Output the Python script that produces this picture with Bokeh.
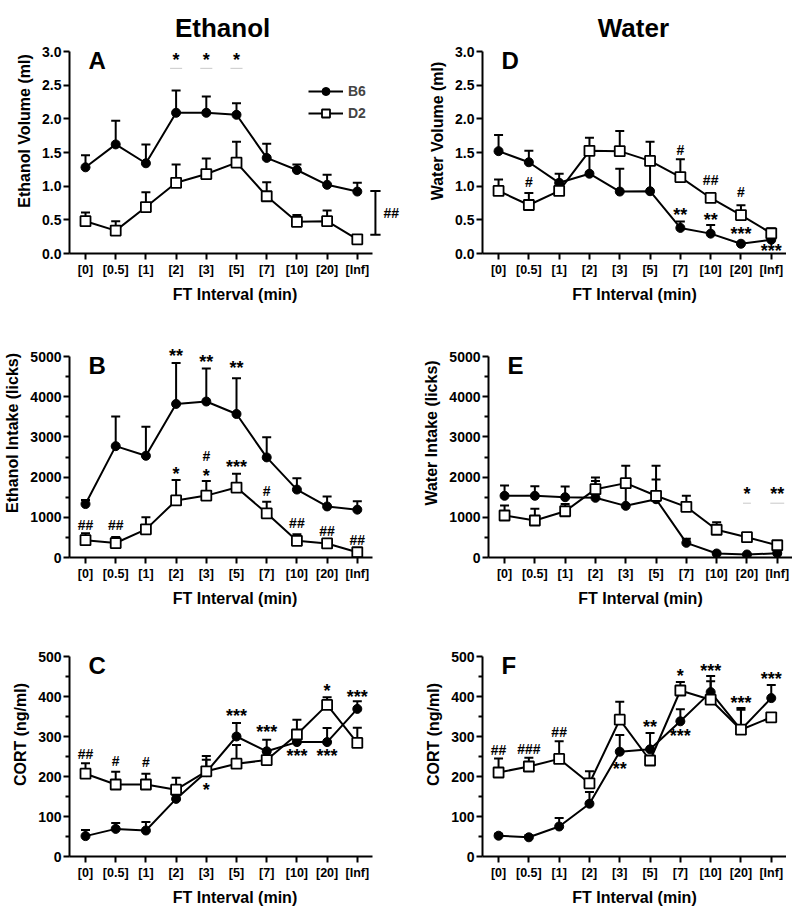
from bokeh.plotting import figure
from bokeh.layouts import column, row
from bokeh.models import (Range1d, FixedTicker, Legend, LegendItem, NumeralTickFormatter,
                          CustomJSTickFormatter)
from bokeh.embed import file_html
from bokeh.resources import INLINE
from bokeh.core.properties import value

# ---------------- data ----------------
categories = ["[0]", "[0.5]", "[1]", "[2]", "[3]", "[5]", "[7]", "[10]", "[20]", "[Inf]"]

# A: Ethanol volume (ml)
eth_vol_b6 = [1.28, 1.62, 1.34, 2.09, 2.09, 2.06, 1.42, 1.24, 1.02, 0.92]
eth_vol_b6_sem = [0.18, 0.35, 0.28, 0.33, 0.24, 0.17, 0.21, 0.08, 0.15, 0.13]
eth_vol_d2 = [0.48, 0.34, 0.69, 1.05, 1.18, 1.35, 0.85, 0.47, 0.48, 0.21]
eth_vol_d2_sem = [0.13, 0.14, 0.22, 0.27, 0.23, 0.31, 0.21, 0.10, 0.16, 0.04]
eth_vol_ann_idx = [3, 4, 5]
eth_vol_ann_y = [2.91, 2.91, 2.91]
eth_vol_ann_txt = ["*", "*", "*"]
eth_vol_bracket = [0.28, 0.93]
eth_vol_bracket_txt = "##"

# D: Water volume (ml)
wat_vol_b6 = [1.52, 1.355, 1.05, 1.185, 0.92, 0.925, 0.38, 0.295, 0.145, 0.205]
wat_vol_b6_sem = [0.24, 0.17, 0.135, 0.32, 0.34, 0.44, 0.095, 0.13, 0.015, 0.015]
wat_vol_d2 = [0.93, 0.72, 0.93, 1.525, 1.52, 1.375, 1.135, 0.825, 0.57, 0.30]
wat_vol_d2_sem = [0.17, 0.18, 0.05, 0.195, 0.30, 0.285, 0.265, 0.025, 0.145, 0.075]
wat_vol_ann_idx = [1, 6, 7, 8, 6, 7, 8, 9]
wat_vol_ann_y = [1.06, 1.535, 1.085, 0.91, 0.61, 0.535, 0.32, 0.07]
wat_vol_ann_txt = ["#", "#", "##", "#", "**", "**", "***", "***"]

# B: Ethanol intake (licks)
eth_lick_b6 = [1330, 2770, 2530, 3820, 3880, 3570, 2490, 1690, 1270, 1190]
eth_lick_b6_sem = [100, 740, 720, 1020, 820, 890, 500, 280, 250, 210]
eth_lick_d2 = [430, 360, 700, 1420, 1540, 1740, 1100, 415, 350, 130]
eth_lick_d2_sem = [175, 150, 300, 505, 365, 345, 285, 165, 70, 20]
eth_lick_ann_idx = [3, 4, 5, 3, 4, 4, 5, 6, 0, 1, 7, 8, 9]
eth_lick_ann_y = [5066, 4925, 4776, 2134, 2093, 2533, 2309, 1645, 806, 806, 847, 648, 440]
eth_lick_ann_txt = ["**", "**", "**", "*", "*", "#", "***", "#", "##", "##", "##", "##", "##"]

# E: Water intake (licks)
wat_lick_b6 = [1535, 1535, 1500, 1485, 1285, 1450, 365, 100, 75, 105]
wat_lick_b6_sem = [255, 240, 265, 415, 500, 490, 100, 20, 15, 20]
wat_lick_d2 = [1045, 920, 1150, 1700, 1850, 1535, 1260, 690, 505, 305]
wat_lick_d2_sem = [250, 290, 180, 290, 430, 745, 275, 185, 40, 30]
wat_lick_ann_idx = [8, 9]
wat_lick_ann_y = [1625, 1625]
wat_lick_ann_txt = ["*", "**"]

# C: CORT ethanol (ng/ml)
eth_cort_b6 = [51, 69, 65, 144, 211, 300, 263, 286, 286, 369]
eth_cort_b6_sem = [15, 15, 21, 10, 31, 34, 29, 10, 35, 19]
eth_cort_d2 = [207, 180, 180, 167, 213, 232, 241, 305, 379, 284]
eth_cort_d2_sem = [26, 32, 27, 30, 38, 47, 10, 37, 19, 38]
eth_cort_ann_idx = [0, 1, 2, 4, 5, 6, 7, 8, 8, 9]
eth_cort_ann_y = [257, 240, 236, 172, 357, 317, 257, 257, 419, 403]
eth_cort_ann_txt = ["##", "#", "#", "*", "***", "***", "***", "***", "*", "***"]

# F: CORT water (ng/ml)
wat_cort_b6 = [52, 48, 75, 132, 262, 268, 338, 411, 317, 396]
wat_cort_b6_sem = [5, 5, 21, 29, 42, 41, 30, 40, 50, 33]
wat_cort_d2 = [210, 225, 244, 183, 342, 240, 415, 392, 317, 348]
wat_cort_d2_sem = [35, 22, 44, 30, 45, 10, 21, 46, 54, 10]
wat_cort_ann_idx = [0, 1, 2, 4, 5, 6, 6, 7, 8, 9]
wat_cort_ann_y = [267, 269, 311, 223, 330, 457, 307, 469, 388, 448]
wat_cort_ann_txt = ["##", "###", "##", "**", "**", "*", "***", "***", "***", "***"]

# ---------------- styling / layout ----------------
FONT = "Liberation Sans"
X0 = -0.53
XAXIS_END = 9.5
ROWS = [  # frame height px, px for axis span, axis top value, bottom border, top border
    (245, 202, 3.0, 55, 8),
    (249, 201, 5000, 55, 0),
    (244, 200, 500, 48, 0),
]
COLS = [  # frame width, border left, border right, px per category
    (331, 69, 20, 30.2),
    (304, 62, 0, 30.3),
]
HASH_FS = 14
STAR_FS = 18
STAR_SHIFT = 0.12    # fraction of font size, anchor relative to the visual centre
HASH_SHIFT = 0.0
xs = list(range(len(categories)))


def draw_ann(p, idx, ys, texts, ppu):
    stars = [(i, y, t) for i, y, t in zip(idx, ys, texts) if "*" in t]
    hashes = [(i, y, t) for i, y, t in zip(idx, ys, texts) if "*" not in t]
    for group, fs, frac in ((stars, STAR_FS, STAR_SHIFT), (hashes, HASH_FS, HASH_SHIFT)):
        if not group:
            continue
        p.text(x=[g[0] for g in group], y=[g[1] - frac * fs / ppu for g in group],
               text=[g[2] for g in group], text_font=value(FONT), text_font_size=f"{fs}px",
               text_font_style="bold",
               text_align="center", text_baseline="alphabetic", text_color="black")


def panel(ci, ri, b6, b6s, d2, d2s, ann_idx, ann_y, ann_txt, ylabel, letter,
          yticks, yminor, yfmt, title=None, legend=False):
    frame_h, axis_px, top_val, bb, bt = ROWS[ri]
    fw, bl, br, pxc = COLS[ci]
    ppu = axis_px / top_val
    y_end = frame_h / ppu
    x_end = X0 + fw / pxc
    p = figure(frame_width=fw, frame_height=frame_h,
               x_range=Range1d(X0, x_end), y_range=Range1d(0, y_end),
               min_border_left=bl, min_border_right=br, min_border_top=bt,
               min_border_bottom=bb, output_backend="svg", toolbar_location=None,
               tools="")
    p.outline_line_color = None
    p.xgrid.visible = False
    p.ygrid.visible = False
    p.background_fill_color = "white"
    p.border_fill_color = "white"

    for ax in (p.xaxis[0], p.yaxis[0]):
        ax.axis_line_width = 2
        ax.axis_line_color = "black"
        ax.major_tick_line_width = 2
        ax.major_tick_line_color = "black"
        ax.minor_tick_line_width = 2
        ax.minor_tick_line_color = "black"
        ax.major_tick_in = 0
        ax.major_tick_out = 6
        ax.minor_tick_in = 0
        ax.minor_tick_out = 4
        ax.major_label_text_font = FONT
        ax.major_label_text_font_style = "bold"
        ax.major_label_text_color = "black"
        ax.axis_label_text_font = FONT
        ax.axis_label_text_font_style = "bold"
        ax.axis_label_text_font_size = "16px"
        ax.axis_label_text_color = "black"
    xa = p.xaxis[0]
    xa.ticker = FixedTicker(ticks=xs)
    xa.formatter = CustomJSTickFormatter(args=dict(labels=categories),
                                         code="const i = Math.round(tick); return (i >= 0 && i < labels.length) ? labels[i] : '';")
    xa.bounds = (X0, XAXIS_END)
    xa.major_label_text_font_size = "12.5px"
    xa.major_label_standoff = 3
    xa.axis_label = "FT Interval (min)"
    xa.axis_label_standoff = 6
    ya = p.yaxis[0]
    ya.ticker = FixedTicker(ticks=yticks, minor_ticks=yminor)
    ya.formatter = NumeralTickFormatter(format=yfmt)
    ya.bounds = (0, top_val)
    ya.major_label_text_font_size = "14px"
    ya.major_label_standoff = 2
    ya.axis_label = ylabel
    ya.axis_label_standoff = 6

    b6_top = [m + s for m, s in zip(b6, b6s)]
    d2_top = [m + s for m, s in zip(d2, d2s)]
    p.segment(x0=xs, y0=b6, x1=xs, y1=b6_top, line_color="black", line_width=2)
    p.scatter(x=xs, y=b6_top, marker="dash", size=9, line_color="black", line_width=2)
    b6_line = p.line(x=xs, y=b6, line_color="black", line_width=2)
    b6_sc = p.scatter(x=xs, y=b6, marker="circle", size=9, fill_color="black",
                      line_color="black", line_width=1)
    p.segment(x0=xs, y0=d2, x1=xs, y1=d2_top, line_color="black", line_width=2)
    p.scatter(x=xs, y=d2_top, marker="dash", size=9, line_color="black", line_width=2)
    d2_line = p.line(x=xs, y=d2, line_color="black", line_width=2)
    d2_sc = p.scatter(x=xs, y=d2, marker="square", size=10, fill_color="white",
                      line_color="black", line_width=1.8)

    if ann_idx:
        draw_ann(p, ann_idx, ann_y, ann_txt, ppu)

    p.text(x=[0.1], y=[top_val - 9 / ppu], text=[letter], text_font=value(FONT),
           text_font_size="24px", text_font_style="bold", text_align="left",
           text_baseline="alphabetic", text_color="black")

    if title:
        p.text(x=[title[1]], y=[y_end - 19 / ppu], text=[title[0]], text_font=value(FONT),
               text_font_size="26px", text_font_style="bold", text_align="center",
               text_baseline="alphabetic", text_color="black")

    if legend:
        lg = Legend(items=[LegendItem(label="B6", renderers=[b6_line, b6_sc]),
                           LegendItem(label="D2", renderers=[d2_line, d2_sc])],
                    location=(239, 130), padding=0, margin=0, spacing=2,
                    glyph_width=35, glyph_height=20, label_standoff=5,
                    border_line_color=None, background_fill_alpha=0,
                    label_text_font=FONT, label_text_font_style="bold",
                    label_text_font_size="14px", label_height=20)
        p.add_layout(lg)
    return p, ppu


vol_ticks = [0, 0.5, 1.0, 1.5, 2.0, 2.5, 3.0]
lick_ticks = [0, 1000, 2000, 3000, 4000, 5000]
lick_minor = [500, 1500, 2500, 3500, 4500]
cort_ticks = [0, 100, 200, 300, 400, 500]
cort_minor = [50, 150, 250, 350, 450]

pA, ppuA = panel(0, 0, eth_vol_b6, eth_vol_b6_sem, eth_vol_d2, eth_vol_d2_sem,
                 eth_vol_ann_idx, eth_vol_ann_y, eth_vol_ann_txt, "Ethanol Volume (ml)", "A",
                 vol_ticks, [], "0.0", title=("Ethanol", 4.54), legend=True)
pA.segment(x0=[i - 0.2 for i in eth_vol_ann_idx], y0=[2.75] * 3,
           x1=[i + 0.2 for i in eth_vol_ann_idx], y1=[2.75] * 3,
           line_color="#c8c8c8", line_width=1)
bx = len(categories) - 1 + 0.6
pA.segment(x0=[bx, bx - 0.17, bx - 0.17], y0=[eth_vol_bracket[0], eth_vol_bracket[0], eth_vol_bracket[1]],
           x1=[bx, bx + 0.17, bx + 0.17], y1=[eth_vol_bracket[1], eth_vol_bracket[0], eth_vol_bracket[1]],
           line_color="black", line_width=2)
pA.text(x=[bx + 0.27], y=[sum(eth_vol_bracket) / 2 - HASH_SHIFT * HASH_FS / ppuA],
        text=[eth_vol_bracket_txt], text_font=value(FONT), text_font_size=f"{HASH_FS}px",
        text_font_style="bold",
        text_align="left", text_baseline="alphabetic", text_color="black")

pD, _ = panel(1, 0, wat_vol_b6, wat_vol_b6_sem, wat_vol_d2, wat_vol_d2_sem,
              wat_vol_ann_idx, wat_vol_ann_y, wat_vol_ann_txt, "Water Volume (ml)", "D",
              vol_ticks, [], "0.0", title=("Water", 4.45))

pB, _ = panel(0, 1, eth_lick_b6, eth_lick_b6_sem, eth_lick_d2, eth_lick_d2_sem,
              eth_lick_ann_idx, eth_lick_ann_y, eth_lick_ann_txt, "Ethanol Intake (licks)", "B",
              lick_ticks, lick_minor, "0")

pE, _ = panel(1, 1, wat_lick_b6, wat_lick_b6_sem, wat_lick_d2, wat_lick_d2_sem,
              wat_lick_ann_idx, wat_lick_ann_y, wat_lick_ann_txt, "Water Intake (licks)", "E",
              lick_ticks, lick_minor, "0")
pE.segment(x0=[8 - 0.13, 9 - 0.23], y0=[1351, 1351], x1=[8 + 0.13, 9 + 0.23], y1=[1351, 1351],
           line_color="#c8c8c8", line_width=1)

pC, _ = panel(0, 2, eth_cort_b6, eth_cort_b6_sem, eth_cort_d2, eth_cort_d2_sem,
              eth_cort_ann_idx, eth_cort_ann_y, eth_cort_ann_txt, "CORT (ng/ml)", "C",
              cort_ticks, cort_minor, "0")

pF, _ = panel(1, 2, wat_cort_b6, wat_cort_b6_sem, wat_cort_d2, wat_cort_d2_sem,
              wat_cort_ann_idx, wat_cort_ann_y, wat_cort_ann_txt, "CORT (ng/ml)", "F",
              cort_ticks, cort_minor, "0")

layout = column(row(pA, pD), row(pB, pE), row(pC, pF))
open("out.html", "w").write(file_html(layout, INLINE, title="FT interval"))
